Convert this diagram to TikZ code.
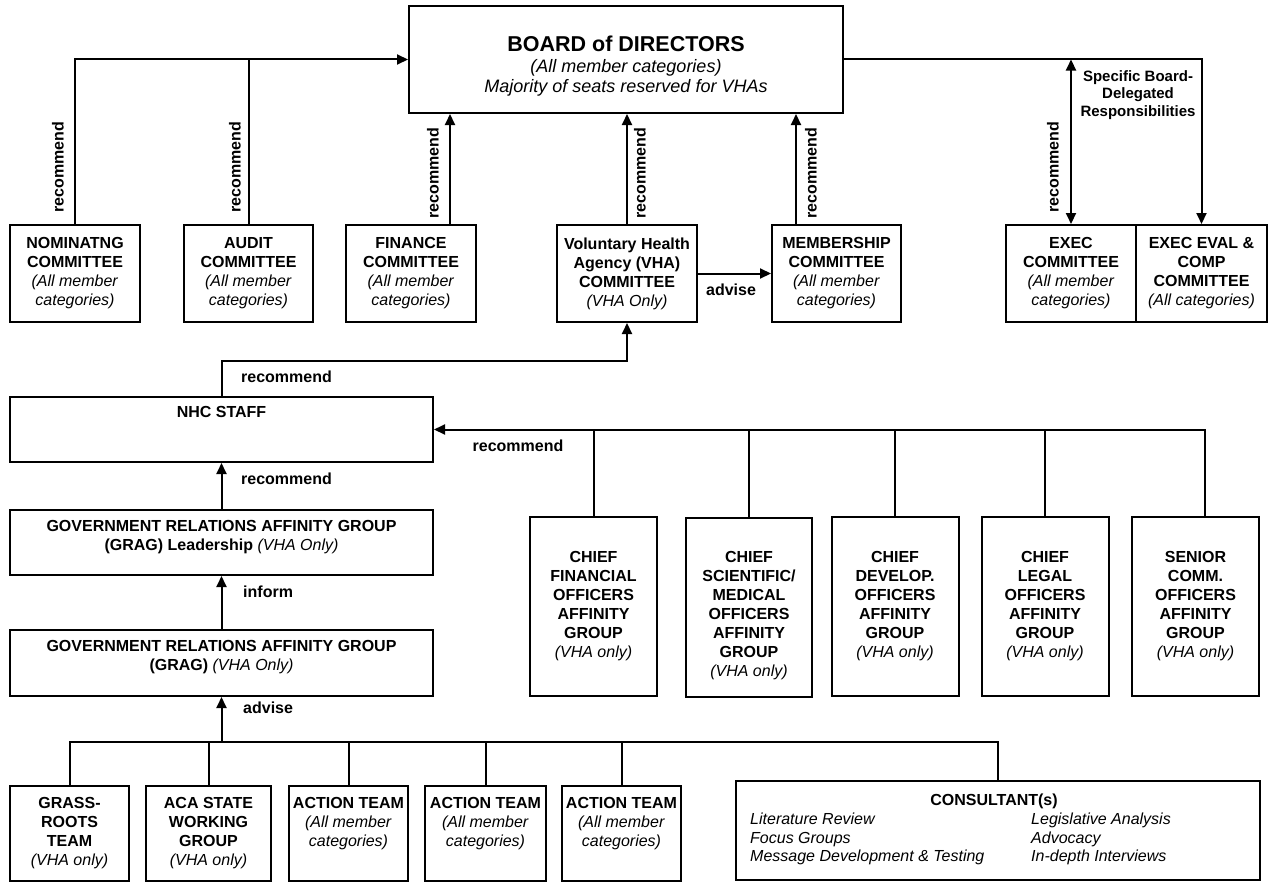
\documentclass[tikz,border=0pt]{standalone}
\usepackage{fontspec}
\setmainfont{Liberation Sans}
\usetikzlibrary{arrows.meta,calc}
\newcommand{\unitfont}{\fontsize{16}{19}\selectfont}
\newcommand{\hdg}[1]{\textbf{#1}}
\newcommand{\catg}[1]{\textit{#1}}
\tikzset{
  unit/.style={draw, line width=2pt, align=center, inner sep=0pt, font=\unitfont},
  link/.style={line width=2pt},
  arr/.style={link, -{Triangle[length=11pt,width=10pt]}},
  arrs/.style={link, {Triangle[length=11pt,width=10pt]}-{Triangle[length=11pt,width=10pt]}},
  lbl/.style={font=\unitfont\bfseries, inner sep=0pt},
  vlbl/.style={lbl, rotate=90},
  consitem/.style={anchor=west, align=left, inner sep=0pt, font=\fontsize{16}{18.5}\selectfont\itshape},
}

\begin{document}
\begin{tikzpicture}[x=1pt,y=-1pt]
\useasboundingbox (0,0) rectangle (1268,883);

% board and committees
\node[unit, minimum width=434pt, minimum height=107pt, text height=70pt, font=\fontsize{18}{20.5}\selectfont] (board) at (626,59.5)
  {{\fontsize{21.5}{23}\selectfont\bfseries BOARD of DIRECTORS}\\\catg{(All member categories)}\\\catg{Majority of seats reserved for VHAs}};
\node[unit, minimum width=130pt, minimum height=97pt] (nom) at (75,273.5) {\hdg{NOMINATNG}\\\hdg{COMMITTEE}\\\catg{(All member}\\\catg{categories)}};
\node[unit, minimum width=129pt, minimum height=97pt] (audit) at (248.5,273.5) {\hdg{AUDIT}\\\hdg{COMMITTEE}\\\catg{(All member}\\\catg{categories)}};
\node[unit, minimum width=130pt, minimum height=97pt] (finance) at (411,273.5) {\hdg{FINANCE}\\\hdg{COMMITTEE}\\\catg{(All member}\\\catg{categories)}};
\node[unit, minimum width=140pt, minimum height=97pt] (vha) at (627,273.5) {\hdg{Voluntary Health}\\\hdg{Agency (VHA)}\\\hdg{COMMITTEE}\\\catg{(VHA Only)}};
\node[unit, minimum width=129pt, minimum height=97pt] (memb) at (836.5,273.5) {\hdg{MEMBERSHIP}\\\hdg{COMMITTEE}\\\catg{(All member}\\\catg{categories)}};
\node[unit, minimum width=130pt, minimum height=97pt] (exec) at (1071,273.5) {\hdg{EXEC}\\\hdg{COMMITTEE}\\\catg{(All member}\\\catg{categories)}};
\node[unit, minimum width=131pt, minimum height=97pt] (eval) at (1201.5,273.5) {\hdg{EXEC EVAL \&}\\\hdg{COMP}\\\hdg{COMMITTEE}\\\catg{(All categories)}};

% staff and government relations
\node[unit, minimum width=423pt, minimum height=65pt, label={[lbl, anchor=north, yshift=-10pt]north:NHC STAFF}] (nhc) at (221.5,429.5) {};
\node[unit, minimum width=423pt, minimum height=65pt, text depth=15pt] (gragl) at (221.5,542.5) {\hdg{GOVERNMENT RELATIONS AFFINITY GROUP}\\\hdg{(GRAG) Leadership} \catg{(VHA Only)}};
\node[unit, minimum width=423pt, minimum height=66pt, text depth=15pt] (grag) at (221.5,663) {\hdg{GOVERNMENT RELATIONS AFFINITY GROUP}\\\hdg{(GRAG)} \catg{(VHA Only)}};

% affinity groups
\node[unit, minimum width=127pt, minimum height=179pt] (cfo) at (593.5,606.5) {\hdg{CHIEF}\\\hdg{FINANCIAL}\\\hdg{OFFICERS}\\\hdg{AFFINITY}\\\hdg{GROUP}\\\catg{(VHA only)}};
\node[unit, minimum width=126pt, minimum height=179pt, text height=143pt] (cso) at (749,607) {\hdg{CHIEF}\\\hdg{SCIENTIFIC/}\\\hdg{MEDICAL}\\\hdg{OFFICERS}\\\hdg{AFFINITY}\\\hdg{GROUP}\\\catg{(VHA only)}};
\node[unit, minimum width=127pt, minimum height=179pt] (cdo) at (895,606.5) {\hdg{CHIEF}\\\hdg{DEVELOP.}\\\hdg{OFFICERS}\\\hdg{AFFINITY}\\\hdg{GROUP}\\\catg{(VHA only)}};
\node[unit, minimum width=127pt, minimum height=179pt] (clo) at (1045,606.5) {\hdg{CHIEF}\\\hdg{LEGAL}\\\hdg{OFFICERS}\\\hdg{AFFINITY}\\\hdg{GROUP}\\\catg{(VHA only)}};
\node[unit, minimum width=127pt, minimum height=179pt] (sco) at (1195.5,606.5) {\hdg{SENIOR}\\\hdg{COMM.}\\\hdg{OFFICERS}\\\hdg{AFFINITY}\\\hdg{GROUP}\\\catg{(VHA only)}};

% teams
\node[unit, minimum width=119pt, minimum height=95pt] (grass) at (69.5,833.5) {\hdg{GRASS-}\\\hdg{ROOTS}\\\hdg{TEAM}\\\catg{(VHA only)}};
\node[unit, minimum width=125pt, minimum height=95pt] (aca) at (208.5,833.5) {\hdg{ACA STATE}\\\hdg{WORKING}\\\hdg{GROUP}\\\catg{(VHA only)}};
\node[unit, minimum width=119pt, minimum height=95pt] (act1) at (348.5,833.5) {\hdg{ACTION TEAM}\\\catg{(All member}\\\catg{categories)}\\\phantom{(}};
\node[unit, minimum width=121pt, minimum height=95pt] (act2) at (485.5,833.5) {\hdg{ACTION TEAM}\\\catg{(All member}\\\catg{categories)}\\\phantom{(}};
\node[unit, minimum width=119pt, minimum height=95pt] (act3) at (621.5,833.5) {\hdg{ACTION TEAM}\\\catg{(All member}\\\catg{categories)}\\\phantom{(}};
\node[unit, minimum width=524pt, minimum height=99pt] (cons) at (998,830.5) {};
\node[lbl] (conshd) at (994,801) {CONSULTANT(s)};
\node[consitem] (conslt) at (750,839) {Literature Review\\Focus Groups\\Message Development \& Testing};
\node[consitem] (consrt) at (1031,839) {Legislative Analysis\\Advocacy\\In-depth Interviews};

% connectors
\draw[arr] (nom.north) |- (board.west);
\draw[link] (audit.north) -- (audit.north |- board.west);
\coordinate (finup) at ($(finance.north)+(39,0)$);
\draw[arr] (finup) -- (finup |- board.south);
\draw[arr] (vha.north) -- (vha.north |- board.south);
\coordinate (membup) at ($(memb.north)+(-40.5,0)$);
\draw[arr] (membup) -- (membup |- board.south);
\draw[arr] (vha) -- (memb);
\draw[arrs] (exec.north |- board.east) -- (exec.north);
\draw[arr] (board.east) -| (eval.north);

\draw[arr] (nhc.north) |- ($(vha.south)+(0,38)$) -- (vha.south);
\draw[arr] (gragl) -- (nhc);
\draw[arr] (grag) -- (gragl);
\draw[arr] ([xshift=9.5pt]sco.north) |- (nhc.east);
\foreach \g in {cfo,cso,cdo,clo}
  \draw[link] (\g.north) -- (\g.north |- nhc.east);

\coordinate (bus) at ($(grag.south)+(0,45)$);
\draw[arr] (bus) -- (grag.south);
\draw[link] (grass.north) |- (cons.north |- bus) -- (cons.north);
\foreach \t in {aca,act1,act2,act3}
  \draw[link] (\t.north) -- (\t.north |- bus);

% labels
\node[vlbl] (recnom) at (58,167) {recommend};
\node[vlbl] (recaud) at (235,167) {recommend};
\node[vlbl] (recfin) at (433,173) {recommend};
\node[vlbl] (recvha) at (640,173) {recommend};
\node[vlbl] (recmemb) at (811,173) {recommend};
\node[vlbl] (recexec) at (1053,167) {recommend};
\node[lbl, align=center, font=\fontsize{15}{17.5}\selectfont\bfseries] (spec) at (1138,95) {Specific Board-\\Delegated\\Responsibilities};
\node[lbl] (advvha) at (731,290) {advise};
\node[lbl, anchor=west] (recstaff) at (241,377) {recommend};
\node[lbl] (recaff) at (518,446) {recommend};
\node[lbl, anchor=west] (recgrag) at (241,479) {recommend};
\node[lbl, anchor=west] (inform) at (243,592) {inform};
\node[lbl, anchor=west] (advteam) at (243,708) {advise};
\end{tikzpicture}
\end{document}
